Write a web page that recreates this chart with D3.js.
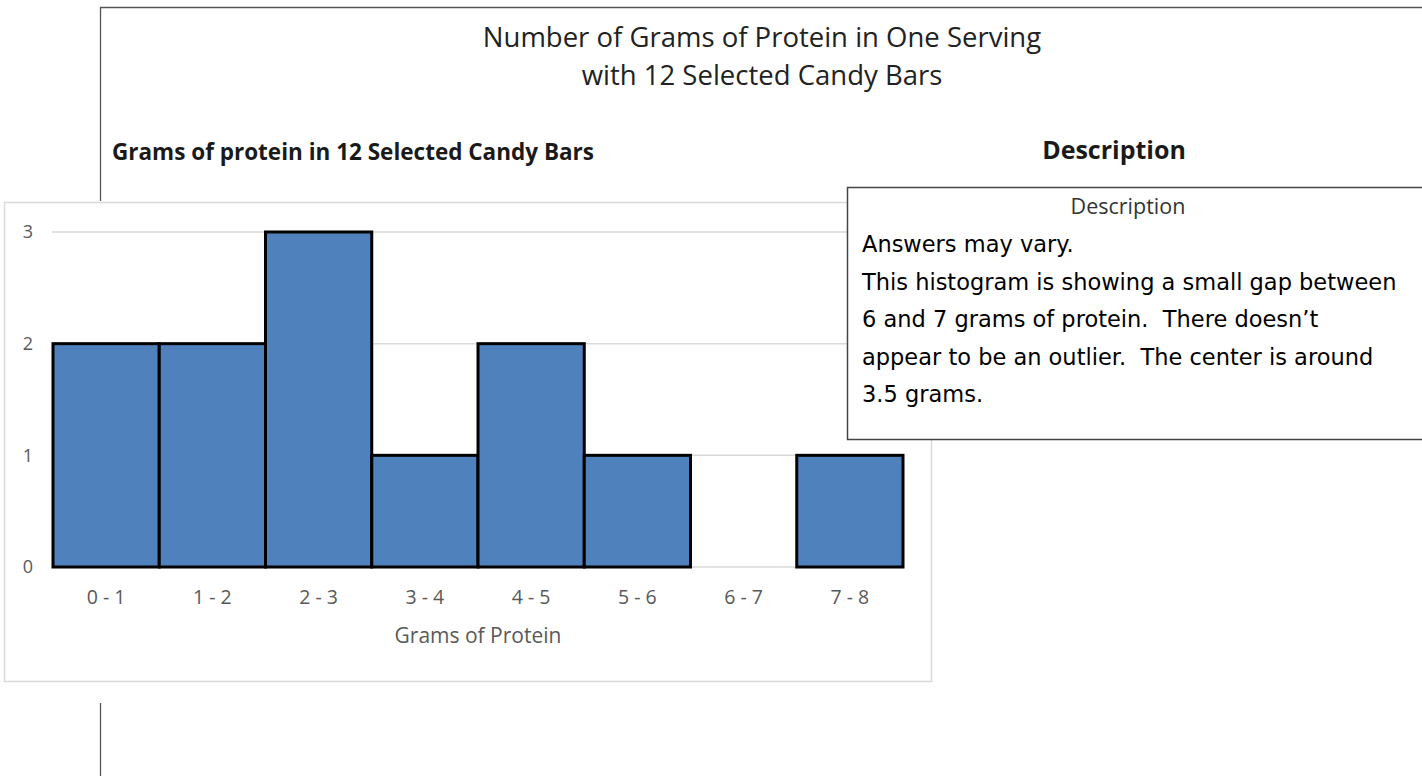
<!DOCTYPE html>
<html>
<head>
<meta charset="utf-8">
<script src="https://cdn.jsdelivr.net/npm/d3@7"></script>
<style>
    html, body { margin: 0; padding: 0; background: #fff; overflow: hidden; }
    svg { display: block; }
    .pre { white-space: pre; }
</style>
</head>
<body>
<svg id="page" width="1422" height="776"></svg>
<script>
// histogram bins and counts
var bins = ["0 - 1", "1 - 2", "2 - 3", "3 - 4", "4 - 5", "5 - 6", "6 - 7", "7 - 8"];
var counts = [2, 2, 3, 1, 2, 1, 0, 1];
var yTicks = [0, 1, 2, 3];

var titleLines = ["Number of Grams of Protein in One Serving", "with 12 Selected Candy Bars"];
var chartHeading = "Grams of protein in 12 Selected Candy Bars";
var descHeading = "Description";
var xTitle = "Grams of Protein";
var descLines = [
    "Answers may vary.",
    "This histogram is showing a small gap between",
    "6 and 7 grams of protein.  There doesn\u2019t",
    "appear to be an outlier.  The center is around",
    "3.5 grams."
];

var svg = d3.select("#page");
var W = 1422, H = 776;

// outer page frame (partly hidden behind the pasted chart)
svg.append("line").attr("x1", 100).attr("x2", W + 2).attr("y1", 7.5).attr("y2", 7.5)
    .attr("stroke", "#555").attr("stroke-width", 1.3);
svg.append("line").attr("x1", 100.5).attr("x2", 100.5).attr("y1", 7).attr("y2", H)
    .attr("stroke", "#555").attr("stroke-width", 1.3);

svg.selectAll("text.title").data(titleLines).enter().append("text")
    .attr("class", "title")
    .attr("x", 762).attr("y", function(d, i) { return 47 + i * 38; })
    .attr("text-anchor", "middle")
    .style("font-family", "'Open Sans', sans-serif").style("font-size", "27.5px")
    .attr("fill", "#222").text(function(d) { return d; });

svg.append("text").attr("x", 112).attr("y", 160)
    .style("font-family", "'Open Sans', sans-serif").style("font-size", "22.5px").style("font-weight", 700)
    .attr("fill", "#1a1a1a").text(chartHeading);

svg.append("text").attr("x", 1114).attr("y", 159).attr("text-anchor", "middle")
    .style("font-family", "'Open Sans', sans-serif").style("font-size", "25px").style("font-weight", 700)
    .attr("fill", "#1a1a1a").text(descHeading);

// the pasted chart picture
var chart = svg.append("g");
chart.append("rect").attr("x", 0).attr("y", 201).attr("width", 934).attr("height", 502).attr("fill", "#fff");
chart.append("rect").attr("x", 4.5).attr("y", 202.5).attr("width", 927).attr("height", 479)
    .attr("fill", "#fff").attr("stroke", "#d9d9d9").attr("stroke-width", 1.5);

var x = d3.scaleBand().domain(bins).range([53, 903]).paddingInner(0).paddingOuter(0);
var y = d3.scaleLinear().domain([0, 3]).range([567, 232]);

chart.append("g").selectAll("line").data(yTicks).enter().append("line")
    .attr("x1", 52).attr("x2", 903)
    .attr("y1", function(d) { return y(d); }).attr("y2", function(d) { return y(d); })
    .attr("stroke", "#d9d9d9").attr("stroke-width", 1.5);

var yAxis = chart.append("g").attr("transform", "translate(33,0)")
    .call(d3.axisLeft(y).tickValues(yTicks).tickSize(0).tickPadding(0).tickFormat(d3.format("d")));
yAxis.select(".domain").remove();
yAxis.selectAll("text").attr("fill", "#595959")
    .style("font-family", "'Open Sans', sans-serif").style("font-size", "18px");

chart.append("g").selectAll("rect").data(counts).enter().append("rect")
    .attr("x", function(d, i) { return x(bins[i]); })
    .attr("y", function(d) { return y(d); })
    .attr("width", x.bandwidth())
    .attr("height", function(d) { return y(0) - y(d); })
    .attr("fill", function(d) { return d > 0 ? "#4f81bd" : "none"; })
    .attr("stroke", function(d) { return d > 0 ? "#000" : "none"; })
    .attr("stroke-width", 3);

var xAxis = chart.append("g").attr("transform", "translate(0,567)")
    .call(d3.axisBottom(x).tickSize(0).tickPadding(23));
xAxis.select(".domain").remove();
xAxis.selectAll("text").attr("fill", "#595959")
    .style("font-family", "'Open Sans', sans-serif").style("font-size", "19.5px");

chart.append("text").attr("x", 478).attr("y", 643).attr("text-anchor", "middle")
    .attr("fill", "#595959").style("font-family", "'Open Sans', sans-serif").style("font-size", "21px")
    .text(xTitle);

// description text box on the right
var box = svg.append("g");
box.append("rect").attr("x", 847.5).attr("y", 187.5).attr("width", 600).attr("height", 252)
    .attr("fill", "#fff").attr("stroke", "#444").attr("stroke-width", 1.5);
box.append("text").attr("x", 1128).attr("y", 214).attr("text-anchor", "middle")
    .attr("fill", "#333").style("font-family", "'Open Sans', sans-serif").style("font-size", "21.5px")
    .text(descHeading);
box.selectAll("text.desc").data(descLines).enter().append("text")
    .attr("class", "desc pre")
    .attr("x", 862).attr("y", function(d, i) { return 252 + i * 37.5; })
    .attr("fill", "#000").style("font-family", "'DejaVu Sans', sans-serif").style("font-size", "22.5px")
    .text(function(d) { return d; });
</script>
</body>
</html>
